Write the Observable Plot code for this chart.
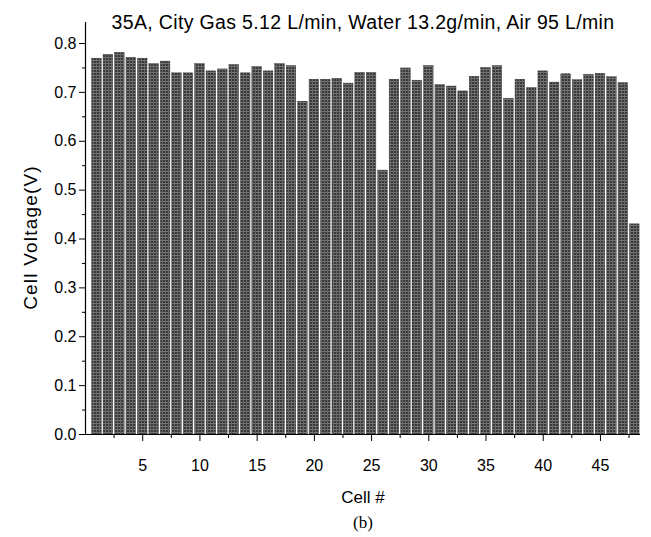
<!DOCTYPE html>
<html>
<head>
<meta charset="utf-8">
<script src="https://cdn.jsdelivr.net/npm/d3@7"></script>
<script src="https://cdn.jsdelivr.net/npm/@observablehq/plot@0.6"></script>
<style>
  html, body { margin: 0; padding: 0; background: #fff; }
  svg { display: block; }
  .chart-title text { letter-spacing: 0.35px; }
  .y-label text { letter-spacing: 1.2px; }
</style>
</head>
<body>
<div id="chart"></div>
<script>
const cells = [1,2,3,4,5,6,7,8,9,10,11,12,13,14,15,16,17,18,19,20,21,22,23,24,25,26,27,28,29,30,31,32,33,34,35,36,37,38,39,40,41,42,43,44,45,46,47,48];
const voltages = [0.769,0.777,0.781,0.771,0.769,0.758,0.763,0.739,0.739,0.758,
                  0.743,0.747,0.756,0.739,0.752,0.743,0.758,0.754,0.681,0.726,
                  0.726,0.728,0.718,0.740,0.740,0.540,0.726,0.749,0.724,0.754,
                  0.715,0.712,0.702,0.732,0.750,0.754,0.687,0.726,0.709,0.743,
                  0.720,0.737,0.725,0.736,0.738,0.731,0.719,0.430];
const yTicks = [0.0,0.1,0.2,0.3,0.4,0.5,0.6,0.7,0.8];
const yMinorTicks = [0.05,0.15,0.25,0.35,0.45,0.55,0.65,0.75];
const xTicks = [5,10,15,20,25,30,35,40,45];
const xMinorTicks = [2.5,7.5,12.5,17.5,22.5,27.5,32.5,37.5,42.5,47.5];
const titleText = "35A, City Gas 5.12 L/min, Water 13.2g/min, Air 95 L/min";
const xLabel = "Cell #";
const yLabel = "Cell Voltage(V)";
const captionText = "(b)";

const data = cells.map((c, i) => ({cell: c, v: voltages[i]}));
const font = "'Liberation Sans', Arial, sans-serif";

const svg = Plot.plot({
  width: 651,
  height: 537,
  marginLeft: 85,
  marginRight: 11,
  marginTop: 22,
  marginBottom: 103,
  style: {fontFamily: font, background: "#fff", color: "#000"},
  x: {domain: [0, 48.5], axis: null},
  y: {domain: [0, 0.843], axis: null},
  marks: [
    Plot.rectY(data, {x1: d => d.cell - 0.42, x2: d => d.cell + 0.42, y: "v", fill: "url(#hatch)", stroke: "#2e2e2e", strokeWidth: 0.4}),
    Plot.ruleX([0], {stroke: "#000", strokeWidth: 1.2}),
    Plot.ruleY([0], {stroke: "#000", strokeWidth: 1.2}),
    Plot.axisY({ticks: yTicks, tickSize: 6, tickPadding: 3, tickFormat: d3.format(".1f"), fontSize: 16, label: null}),
    Plot.axisY({ticks: yMinorTicks, tickSize: 3, tickFormat: () => "", label: null}),
    Plot.axisX({ticks: xTicks, tickSize: 7, tickPadding: 18, tickFormat: d => String(d), fontSize: 16, label: null}),
    Plot.axisX({ticks: xMinorTicks, tickSize: 4, tickFormat: () => "", label: null}),
    Plot.text([titleText], {text: d => d, frameAnchor: "top", dy: 0, lineAnchor: "middle", fontSize: 19.5, fill: "#000", className: "chart-title"}),
    Plot.text([xLabel], {text: d => d, frameAnchor: "bottom", dy: 63, lineAnchor: "middle", fontSize: 17, fill: "#000"}),
    Plot.text([captionText], {text: d => d, frameAnchor: "bottom", dy: 88, lineAnchor: "middle", fontSize: 17, fontFamily: "'Liberation Serif', 'Times New Roman', serif", fill: "#000"}),
    Plot.text([yLabel], {text: d => d, frameAnchor: "left", textAnchor: "middle", dx: -55, dy: 9, rotate: -90, lineAnchor: "middle", fontSize: 19, fill: "#000", className: "y-label"})
  ]
});

const ns = "http://www.w3.org/2000/svg";
const defs = document.createElementNS(ns, "defs");
defs.innerHTML = `<pattern id="hatch" patternUnits="userSpaceOnUse" width="3" height="3">
  <rect width="3" height="3" fill="#383838"></rect>
  <rect x="0" y="0" width="3" height="1" fill="#787878"></rect>
  <rect x="0" y="0" width="1" height="3" fill="#686868"></rect>
</pattern>`;
svg.insertBefore(defs, svg.firstChild);
document.getElementById("chart").appendChild(svg);
</script>
</body>
</html>
